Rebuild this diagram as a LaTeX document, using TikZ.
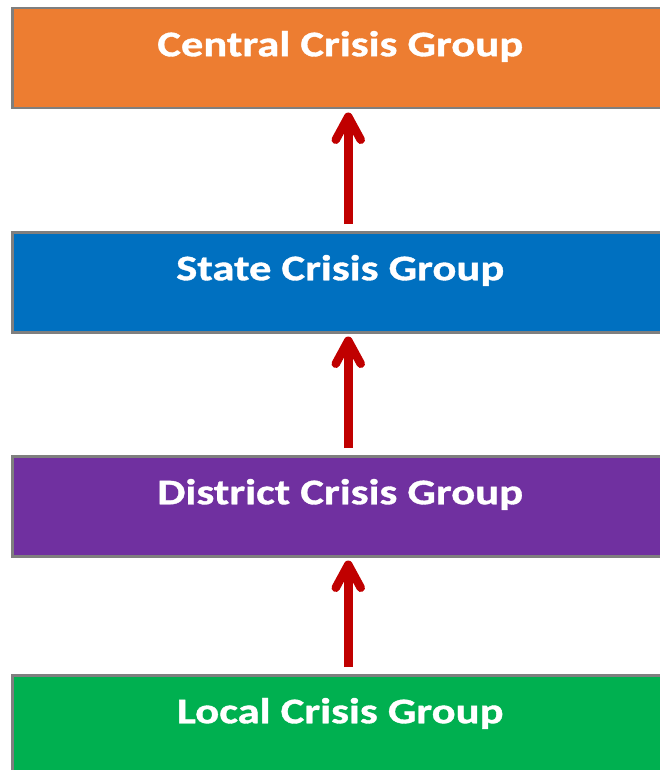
\documentclass[tikz,border=0pt]{standalone}
\usepackage{fontspec}
\setmainfont{Carlito}
\newfontfamily\grpfont{Carlito}[FakeStretch=1.24,FakeBold=1]
\usetikzlibrary{arrows.meta}
\definecolor{central}{HTML}{ED7D31}
\definecolor{state}{HTML}{0070C0}
\definecolor{district}{HTML}{7030A0}
\definecolor{local}{HTML}{00B050}
\definecolor{boxgray}{HTML}{7F7F7F}
\definecolor{arrowred}{HTML}{C00000}
\begin{document}
\begin{tikzpicture}[x=1pt,y=-1pt]
\tikzstyle{grp}=[rectangle, draw=boxgray, line width=2.5pt, minimum width=656pt, minimum height=100pt, anchor=north west, text=white, font=\grpfont\fontsize{36}{40}\selectfont\bfseries, text height=20pt, text depth=24pt]
\tikzstyle{up}=[draw=arrowred, line width=8.5pt, -{Straight Barb[length=23pt,width=25pt,line cap=round,line join=round]}]
\useasboundingbox (0,0) rectangle (660,770);
\clip (0,0) rectangle (660,770);
\node[grp, fill=central] (central) at (11,7){Central Crisis Group};
\node[grp, fill=state] (state) at (11,231){State Crisis Group};
\node[grp, fill=district] (district) at (11,455){District Crisis Group};
\node[grp, fill=local] (local) at (11,674){Local Crisis Group};
\foreach \a/\b in {local/district, district/state, state/central}{\draw[up] ([xshift=8pt,yshift=7pt]\a.north) -- ([xshift=8pt,yshift=-3pt]\b.south);}
\end{tikzpicture}
\end{document}
